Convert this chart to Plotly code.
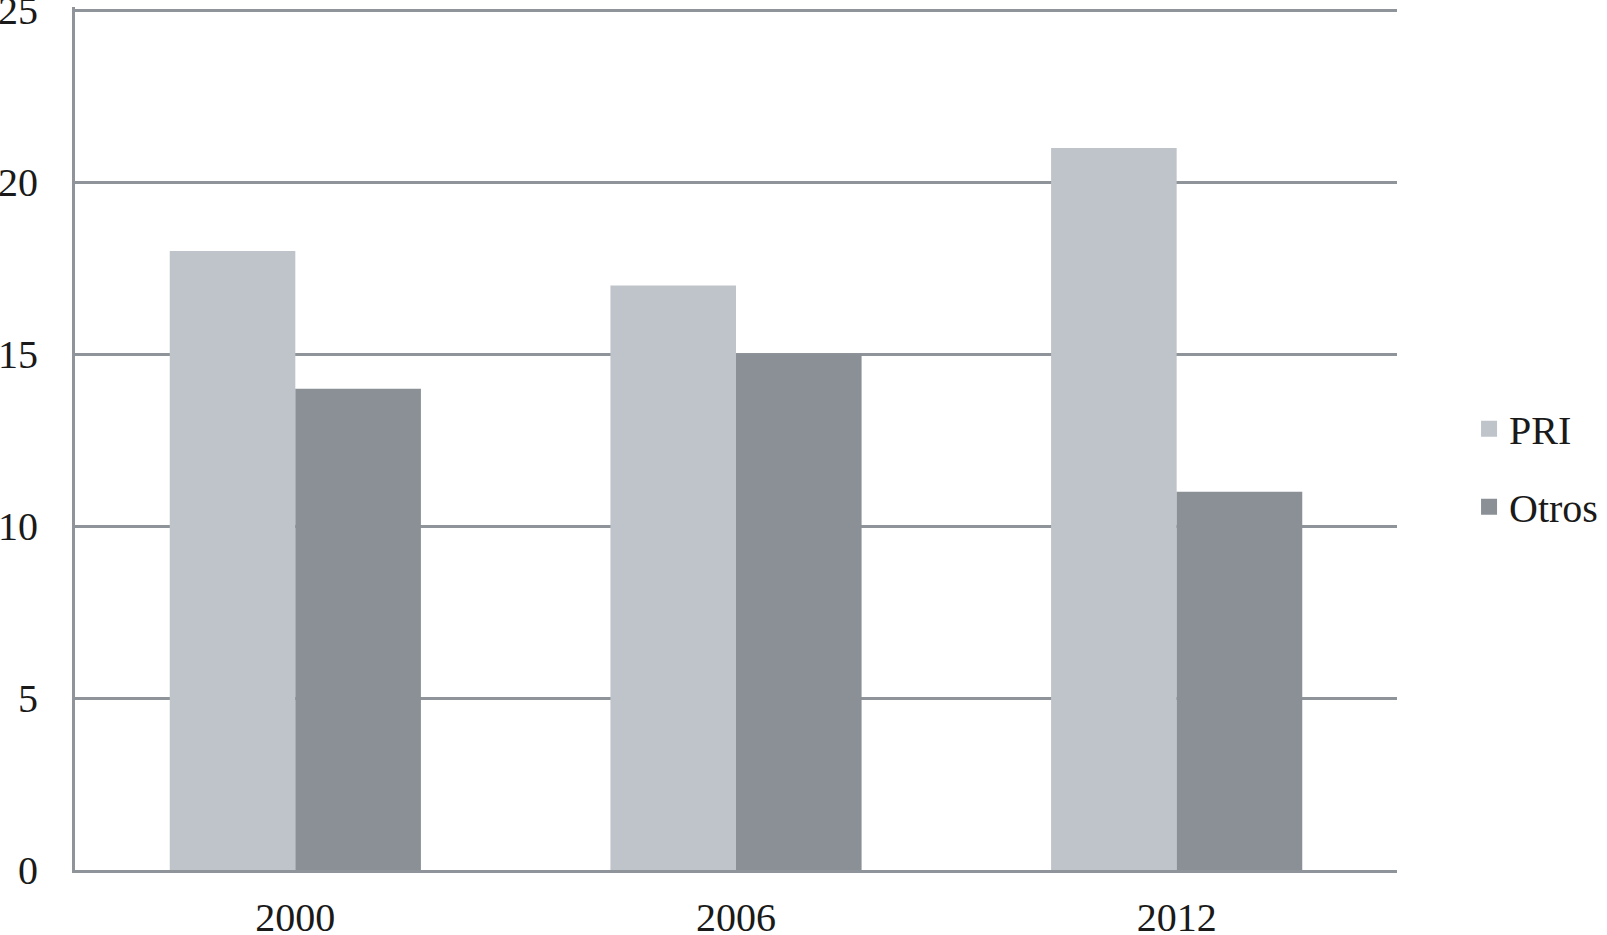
import plotly.graph_objects as go

years = ["2000", "2006", "2012"]
pri = [18, 17, 21]
otros = [14, 15, 11]
y_ticks = [0, 5, 10, 15, 20, 25]
series = [("PRI", pri, "#BFC4CB"), ("Otros", otros, "#8A9096")]

fig = go.Figure()
for name, vals, col in series:
    fig.add_trace(go.Bar(x=years, y=vals, name=name, showlegend=False,
                         marker=dict(color=col, line=dict(width=0))))
# legend entries with larger square swatches
for i, (name, vals, col) in enumerate(series):
    fig.add_trace(go.Scatter(x=[None], y=[None], mode="markers", name=name,
                             legendgroup=f"g{i}",
                             marker=dict(symbol="square", size=16, color=col)))

fig.update_layout(
    width=1607, height=935,
    margin=dict(l=74.5, r=210, t=6.6, b=65, autoexpand=False),
    paper_bgcolor="white", plot_bgcolor="white",
    barmode="group", bargap=0.43, bargroupgap=0,
    font=dict(family="Liberation Serif", size=40, color="#1a1a1a"),
    legend=dict(x=1.0545, xanchor="left", y=0.466, yanchor="middle",
                font=dict(size=40), tracegroupgap=23, traceorder="grouped",
                itemsizing="trace", bgcolor="rgba(0,0,0,0)"),
    showlegend=True,
)
fig.update_xaxes(showline=True, linecolor="#8E9499", linewidth=3, showgrid=False,
                 ticks="", ticklabelstandoff=10, tickfont=dict(size=40), automargin=False)
fig.update_yaxes(range=[0, 25.1], tickvals=y_ticks, showline=True, linecolor="#8E9499", linewidth=3,
                 showgrid=True, gridcolor="#8E9499", gridwidth=3, zeroline=False,
                 ticks="", ticklabelstandoff=26, tickfont=dict(size=40), automargin=False,
                 ticklabeloverflow="allow")

fig.write_html("out.html",
               config={"displayModeBar": False, "responsive": False},
               post_script="document.body.style.margin='0';document.body.style.overflow='hidden';"
                           "document.documentElement.style.overflow='hidden';")
